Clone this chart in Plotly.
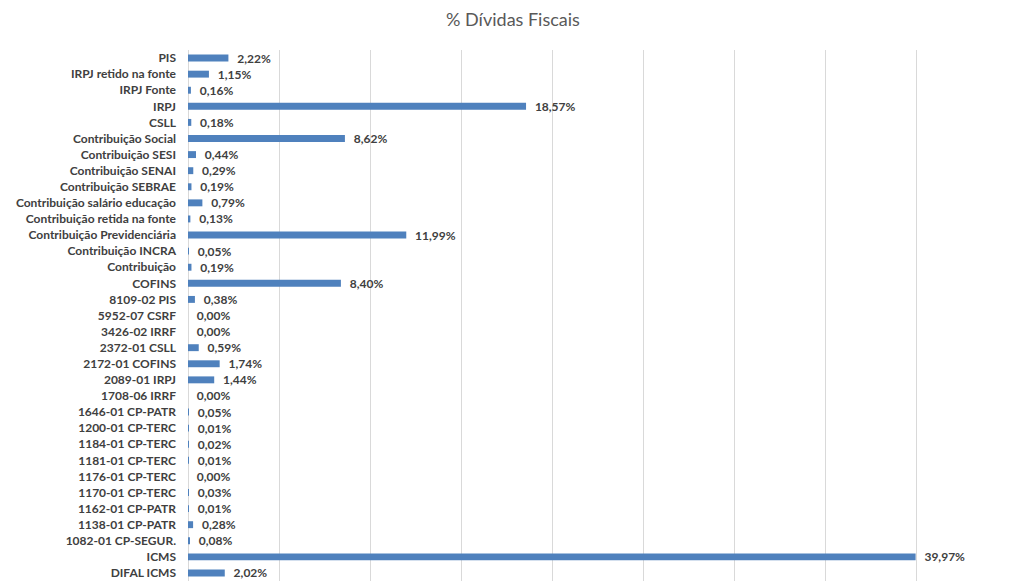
import plotly.graph_objects as go

categories = [
    "PIS", "IRPJ retido na fonte", "IRPJ Fonte", "IRPJ", "CSLL",
    "Contribuição Social", "Contribuição SESI", "Contribuição SENAI",
    "Contribuição SEBRAE", "Contribuição salário educação",
    "Contribuição retida na fonte", "Contribuição Previdenciária",
    "Contribuição INCRA", "Contribuição", "COFINS", "8109-02 PIS",
    "5952-07 CSRF", "3426-02 IRRF", "2372-01 CSLL", "2172-01 COFINS",
    "2089-01 IRPJ", "1708-06 IRRF", "1646-01 CP-PATR", "1200-01 CP-TERC",
    "1184-01 CP-TERC", "1181-01 CP-TERC", "1176-01 CP-TERC",
    "1170-01 CP-TERC", "1162-01 CP-PATR", "1138-01 CP-PATR",
    "1082-01 CP-SEGUR.", "ICMS", "DIFAL ICMS",
]
values = [
    2.22, 1.15, 0.16, 18.57, 0.18, 8.62, 0.44, 0.29, 0.19, 0.79, 0.13,
    11.99, 0.05, 0.19, 8.40, 0.38, 0.00, 0.00, 0.59, 1.74, 1.44, 0.00,
    0.05, 0.01, 0.02, 0.01, 0.00, 0.03, 0.01, 0.28, 0.08, 39.97, 2.02,
]

FONT = "Lato"

fig = go.Figure(
    go.Bar(
        x=values,
        y=categories,
        orientation="h",
        marker=dict(color="#4F81BD", line=dict(width=0)),
        width=0.43,
        texttemplate="\u00a0\u00a0%{x:.2f}%",
        textposition="outside",
        constraintext="none",
        textfont=dict(family=FONT, size=12, color="#404040", weight="bold"),
        cliponaxis=False,
        hoverinfo="skip",
    )
)

# The page body adds an 8px offset; the figure is sized to compensate.
fig.update_layout(
    width=1001,
    height=573,
    margin=dict(l=180, r=0, t=42, b=0, autoexpand=False),
    paper_bgcolor="white",
    plot_bgcolor="white",
    separators=",.",
    showlegend=False,
    title=dict(
        text="% Dívidas Fiscais",
        x=0.5045,
        xanchor="center",
        y=0.979,
        yanchor="middle",
        font=dict(family=FONT, size=18, color="#595959"),
    ),
    xaxis=dict(
        range=[0, 45.1],
        dtick=5,
        tick0=0,
        showgrid=True,
        gridcolor="#D9D9D9",
        gridwidth=1,
        zeroline=True,
        zerolinecolor="#D9D9D9",
        zerolinewidth=1,
        showticklabels=False,
        showline=False,
        automargin=False,
        fixedrange=True,
    ),
    yaxis=dict(
        autorange="reversed",
        showgrid=False,
        zeroline=False,
        showline=False,
        ticks="",
        ticklabelstandoff=11,
        automargin=False,
        tickfont=dict(family=FONT, size=12, color="#404040", weight="bold"),
        fixedrange=True,
    ),
    bargap=0.57,
)

fig.write_html("out.html")
